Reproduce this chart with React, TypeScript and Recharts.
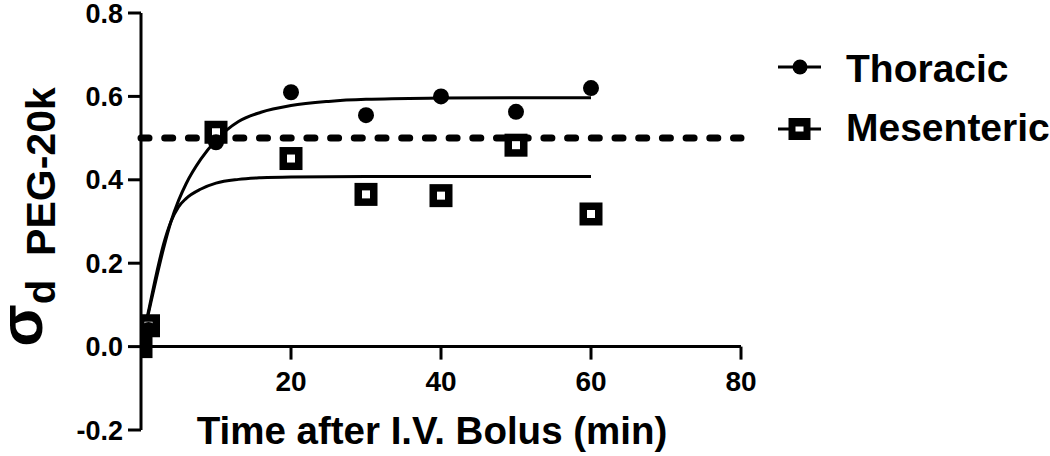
import React from 'react';
import { ComposedChart, Line, Scatter, XAxis, YAxis, ReferenceLine, Legend } from 'recharts';

// ---- data ----
const thoracicX = [0, 1, 10, 20, 30, 40, 50, 60];
const thoracicY = [0, 0.04, 0.49, 0.61, 0.555, 0.6, 0.563, 0.62];
const mesentericX = [0, 1, 10, 20, 30, 40, 50, 60];
const mesentericY = [0, 0.05, 0.514, 0.451, 0.365, 0.362, 0.483, 0.318];

// fitted curves
const thoracicFitX = [0, 1, 2, 3, 4, 5, 6, 8, 10, 13, 16, 20, 25, 30, 40, 50, 60];
const thoracicFitY = [0, 0.08, 0.16, 0.235, 0.3, 0.35, 0.39, 0.45, 0.495, 0.54, 0.562, 0.578, 0.588, 0.593, 0.596, 0.597, 0.597];
const mesentericFitX = [0, 1, 2, 3, 4, 5, 6, 8, 10, 13, 16, 20, 30, 40, 50, 60];
const mesentericFitY = [0, 0.085, 0.17, 0.245, 0.3, 0.335, 0.355, 0.378, 0.392, 0.401, 0.405, 0.407, 0.408, 0.408, 0.408, 0.408];

const xTicks = [20, 40, 60, 80];
const yTicks = [-0.2, 0, 0.2, 0.4, 0.6, 0.8];
const xDomain = [0, 80];
const yDomain = [-0.2, 0.8];
const referenceLevel = 0.5;
const seriesNames = ['Thoracic', 'Mesenteric'];
const xAxisTitle = 'Time after I.V. Bolus (min)';

const toPts = (xs: number[], ys: number[]) => xs.map((x, i) => ({ x, y: ys[i] }));
const thoracicPts = toPts(thoracicX, thoracicY);
const mesentericPts = toPts(mesentericX, mesentericY);
const thoracicFit = toPts(thoracicFitX, thoracicFitY);
const mesentericFit = toPts(mesentericFitX, mesentericFitY);

// ---- layout ----
const W = 1050;
const H = 456;
const MARGIN = { top: 13, right: 309, bottom: 0, left: 41 };
const Y_AXIS_W = 100;
const X_AXIS_H = 26;
const PLOT_TOP = MARGIN.top;
const PLOT_H = H - MARGIN.top - MARGIN.bottom - X_AXIS_H;
const Y0_PX = PLOT_TOP + ((yDomain[1] - 0) / (yDomain[1] - yDomain[0])) * PLOT_H;

const FONT = '"Liberation Sans", Arial, Helvetica, sans-serif';

const XTick = (props: any) => {
  const { x, payload } = props;
  return (
    <g>
      <line x1={x} x2={x} y1={Y0_PX} y2={Y0_PX + 13} stroke="#000" strokeWidth={3} />
      <text x={x} y={Y0_PX + 44} textAnchor="middle" fontFamily={FONT} fontWeight="bold" fontSize={28} fill="#000">
        {payload.value}
      </text>
    </g>
  );
};

const CircleShape = (props: any) => {
  const { cx, cy } = props;
  if (cx == null || cy == null) return null;
  return <circle cx={cx} cy={cy} r={8} fill="#000" />;
};

const SquareShape = (props: any) => {
  const { cx, cy } = props;
  if (cx == null || cy == null) return null;
  return (
    <g>
      <rect x={cx - 11.5} y={cy - 11.5} width={23} height={23} fill="#000" />
      <rect x={cx - 4} y={cy - 4} width={8} height={8} fill="#fff" />
    </g>
  );
};

const YLabel = () => {
  const bx = 55;
  const cy = 217;
  return (
    <text x={bx} y={cy} transform={`rotate(-90 ${bx} ${cy})`} textAnchor="middle" fontFamily={FONT} fontWeight="bold" fill="#000">
      <tspan fontSize={62} dy={-13}>σ</tspan>
      <tspan fontSize={40} dy={13}>d</tspan>
      <tspan fontSize={41} dx={24}>PEG-20k</tspan>
    </text>
  );
};

const XLabel = (props: any) => {
  const vb = props.viewBox || { x: 141, width: 600 };
  const cx = vb.x + vb.width / 2 - 9;
  return (
    <text x={cx} y={444} textAnchor="middle" fontFamily={FONT} fontWeight="bold" fontSize={38.5} fill="#000">
      {xAxisTitle}
    </text>
  );
};

const LegendContent = () => (
  <svg width={280} height={140} style={{ overflow: 'visible', display: 'block' }}>
    <g>
      <line x1={8} x2={51} y1={37} y2={37} stroke="#000" strokeWidth={3} />
      <circle cx={30} cy={37} r={7.5} fill="#000" />
      <text x={76} y={51.5} fontFamily={FONT} fontWeight="bold" fontSize={39} fill="#000">{seriesNames[0]}</text>
    </g>
    <g>
      <line x1={8} x2={51} y1={99} y2={99} stroke="#000" strokeWidth={3} />
      <rect x={18.5} y={88} width={22} height={22} fill="#000" />
      <rect x={25.5} y={96.5} width={8} height={5} fill="#fff" />
      <text x={76} y={111} fontFamily={FONT} fontWeight="bold" fontSize={39} fill="#000">{seriesNames[1]}</text>
    </g>
  </svg>
);

export default function App() {
  return (
    <div style={{ width: W, height: H, background: '#fff' }}>
      <style>{'body{margin:0;background:#fff}'}</style>
      <ComposedChart width={W} height={H} margin={MARGIN}>
        <XAxis
          type="number"
          dataKey="x"
          domain={xDomain}
          ticks={xTicks}
          allowDataOverflow
          axisLine={false}
          tickLine={false}
          height={X_AXIS_H}
          tick={<XTick />}
          interval={0}
          label={<XLabel />}
        />
        <YAxis
          type="number"
          dataKey="y"
          domain={yDomain}
          ticks={yTicks}
          allowDataOverflow
          width={Y_AXIS_W}
          interval={0}
          axisLine={{ stroke: '#000', strokeWidth: 3 }}
          tickLine={{ stroke: '#000', strokeWidth: 3 }}
          tickSize={13}
          tickMargin={5}
          tickFormatter={(v: number) => v.toFixed(1)}
          tick={{ fill: '#000', fontSize: 27, fontWeight: 'bold', fontFamily: FONT }}
          label={<YLabel />}
        />
        <ReferenceLine y={0} stroke="#000" strokeWidth={3} />
        <ReferenceLine y={referenceLevel} stroke="#000" strokeWidth={7} strokeDasharray="8 15.7" strokeLinecap="round" />
        <Line data={thoracicFit} dataKey="y" type="monotone" stroke="#000" strokeWidth={3} dot={false} activeDot={false} isAnimationActive={false} legendType="none" />
        <Line data={mesentericFit} dataKey="y" type="monotone" stroke="#000" strokeWidth={3} dot={false} activeDot={false} isAnimationActive={false} legendType="none" />
        <Scatter data={mesentericPts} dataKey="y" name={seriesNames[1]} shape={<SquareShape />} isAnimationActive={false} />
        <Scatter data={thoracicPts} dataKey="y" name={seriesNames[0]} shape={<CircleShape />} isAnimationActive={false} />
        <Legend
          layout="horizontal"
          verticalAlign="middle"
          align="center"
          content={<LegendContent />}
          wrapperStyle={{ left: 770, top: 30, width: 280, height: 140 }}
        />
      </ComposedChart>
    </div>
  );
}
